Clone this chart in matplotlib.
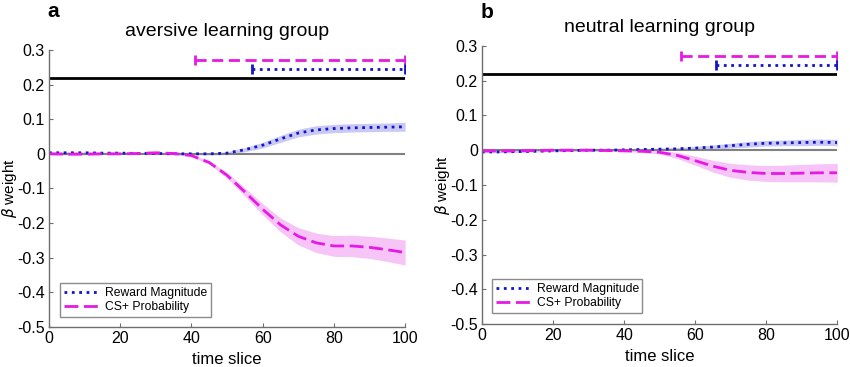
import matplotlib.pyplot as plt
import numpy as np

plt.rcParams['font.family'] = ['Liberation Sans', 'DejaVu Sans']

# time slices where values were read
t = [0, 5, 10, 15, 20, 25, 30, 35, 40, 45, 50, 55, 60, 65, 70, 75, 80, 85, 90, 95, 100]

# aversive learning group
rew_a = [0.003, 0.003, 0.003, 0.002, 0.002, 0.001, 0.001, 0.0, 0.0, 0.0, 0.002, 0.012, 0.025, 0.043, 0.06, 0.069, 0.073, 0.075, 0.076, 0.077, 0.078]
rew_a_se = [0.002, 0.002, 0.002, 0.002, 0.002, 0.002, 0.002, 0.002, 0.002, 0.003, 0.004, 0.006, 0.008, 0.01, 0.011, 0.012, 0.012, 0.012, 0.012, 0.012, 0.013]
cs_a = [0.0, -0.001, -0.001, 0.0, 0.0, 0.001, 0.003, 0.001, -0.005, -0.025, -0.062, -0.11, -0.16, -0.205, -0.238, -0.257, -0.266, -0.266, -0.27, -0.277, -0.285]
cs_a_se = [0.002, 0.002, 0.002, 0.002, 0.002, 0.002, 0.002, 0.002, 0.003, 0.005, 0.008, 0.012, 0.016, 0.02, 0.025, 0.028, 0.03, 0.031, 0.032, 0.034, 0.036]

# neutral learning group
rew_b = [-0.005, -0.005, -0.004, -0.003, -0.002, -0.001, 0.0, 0.0, 0.001, 0.002, 0.003, 0.004, 0.006, 0.009, 0.013, 0.017, 0.02, 0.021, 0.022, 0.023, 0.022]
rew_b_se = [0.002, 0.002, 0.002, 0.002, 0.002, 0.002, 0.002, 0.002, 0.002, 0.002, 0.003, 0.004, 0.005, 0.006, 0.007, 0.008, 0.008, 0.008, 0.009, 0.009, 0.009]
cs_b = [-0.002, -0.002, -0.002, -0.001, 0.0, 0.0, 0.0, -0.001, -0.002, -0.003, -0.006, -0.015, -0.03, -0.046, -0.058, -0.064, -0.067, -0.067, -0.066, -0.065, -0.065]
cs_b_se = [0.002, 0.002, 0.002, 0.002, 0.002, 0.002, 0.002, 0.002, 0.002, 0.003, 0.005, 0.009, 0.013, 0.017, 0.02, 0.022, 0.023, 0.024, 0.025, 0.026, 0.027]

# significance bars: (start, end)
sig_cs = [(41, 100), (56, 100)]
sig_rew = [(57, 100), (66, 100)]

titles = ['aversive learning group', 'neutral learning group']
letters = ['a', 'b']
series = [(rew_a, rew_a_se, cs_a, cs_a_se), (rew_b, rew_b_se, cs_b, cs_b_se)]
positions = [[0.0576, 0.109, 0.419, 0.755], [0.567, 0.117, 0.418, 0.758]]
legend_anchor = [(0.031, 0.036), (0.028, 0.04)]
letter_y = [1.105, 1.085]

blue = '#1414c8'
mag = '#e619e6'
grey = '#6e6e6e'

fig = plt.figure(figsize=(8.5, 3.67), dpi=100)
tt = np.array(t)
for i in range(2):
    ax = fig.add_axes(positions[i])
    rew, rew_se, cs, cs_se = [np.array(s) for s in series[i]]
    ax.fill_between(tt, rew - rew_se, rew + rew_se, color='#c9c9f4', lw=0)
    ax.fill_between(tt, cs - cs_se, cs + cs_se, color='#f7c4f7', lw=0)
    ax.axhline(0, color='#808080', lw=1.5, zorder=1)
    ax.plot([0, 100], [0.22, 0.22], color='black', lw=2)
    ax.plot(tt, rew, ':', color=blue, lw=2, label='Reward Magnitude')
    ax.plot(tt, cs, '--', color=mag, lw=2, dashes=(5, 2), label='CS+ Probability')
    s, e = sig_cs[i]
    ax.plot([s, e], [0.272, 0.272], '--', color=mag, lw=2, dashes=(4, 2))
    ax.plot([s, e], [0.272, 0.272], '|', color=mag, ms=7, mew=2)
    s, e = sig_rew[i]
    ax.plot([s, e], [0.245, 0.245], ':', color=blue, lw=2)
    ax.plot([s, e], [0.245, 0.245], '|', color=blue, ms=7, mew=2)

    ax.set_xlim(0, 100)
    ax.set_ylim(-0.5, 0.3)
    ax.set_xticks([0, 20, 40, 60, 80, 100])
    ax.set_yticks([-0.5, -0.4, -0.3, -0.2, -0.1, 0, 0.1, 0.2, 0.3])
    ax.set_yticklabels(['-0.5', '-0.4', '-0.3', '-0.2', '-0.1', '0', '0.1', '0.2', '0.3'])
    for sp in ['top', 'right']:
        ax.spines[sp].set_visible(False)
    for sp in ['left', 'bottom']:
        ax.spines[sp].set_color(grey)
        ax.spines[sp].set_linewidth(1)
    ax.tick_params(direction='in', length=3, color=grey, labelsize=11.5, pad=3)
    ax.set_xlabel('time slice', fontsize=12, labelpad=4)
    ax.set_ylabel(r'$\beta$ weight', fontsize=11)
    ax.yaxis.set_label_coords(-0.083, 0.5)
    ax.set_title(titles[i], fontsize=14, pad=10)
    ax.text(-0.005, letter_y[i], letters[i], transform=ax.transAxes, fontsize=15,
            fontweight='bold', ha='left', va='bottom')
    leg = ax.legend(loc='lower left', bbox_to_anchor=legend_anchor[i], fontsize=8.7,
                    frameon=True, fancybox=False, handlelength=3, borderaxespad=0,
                    borderpad=0.3, labelspacing=0.2, handletextpad=0.4)
    leg.get_frame().set_edgecolor(grey)
    leg.get_frame().set_linewidth(1)

fig.savefig('out.png', dpi=100)
